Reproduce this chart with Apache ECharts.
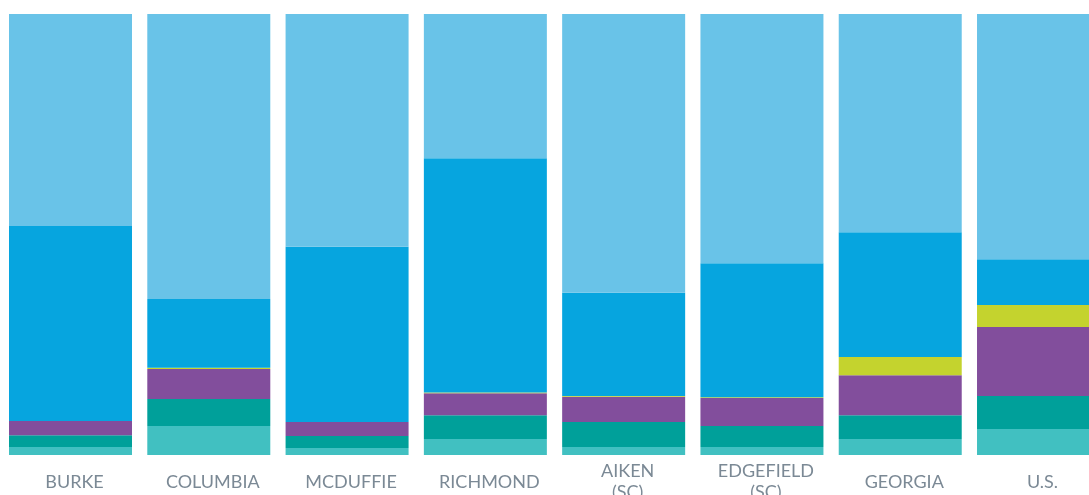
<!DOCTYPE html>
<html>
<head>
<meta charset="utf-8">
<title>Share by segment</title>
<script src="https://cdn.jsdelivr.net/npm/echarts@6/dist/echarts.min.js"></script>
<style>
  html, body { margin: 0; padding: 0; background: #ffffff; }
  #chart { width: 1089px; height: 495px; }
</style>
</head>
<body>
<div id="chart"></div>
<script>
// Areas shown along the x axis
const categories = ['BURKE', 'COLUMBIA', 'MCDUFFIE', 'RICHMOND', 'AIKEN\n(SC)', 'EDGEFIELD\n(SC)', 'GEORGIA', 'U.S.'];

// Percent shares, stacked bottom to top
const seg1 = [1.8, 6.6, 1.6, 3.6, 1.8, 1.8, 3.6, 5.9];
const seg2 = [2.7, 6.1, 2.7, 5.4, 5.7, 4.8, 5.4, 7.5];
const seg3 = [3.2, 6.8, 3.2, 5.0, 5.7, 6.3, 9.1, 15.6];
const seg4 = [0.0, 0.3, 0.0, 0.2, 0.2, 0.2, 4.1, 5.0];
const seg5 = [44.2, 15.6, 39.7, 53.1, 23.4, 30.4, 28.3, 10.4];
const seg6 = [48.1, 64.6, 52.8, 32.7, 63.2, 56.5, 49.5, 55.6];

const segments = [seg1, seg2, seg3, seg4, seg5, seg6];
const colors = ['#41c0c1', '#00a09a', '#824e9c', '#c4d32e', '#06a5df', '#69c3e8'];

const chart = echarts.init(document.getElementById('chart'), null, { renderer: 'canvas' });

chart.setOption({
  animation: false,
  backgroundColor: '#ffffff',
  grid: {
    left: 1.36,
    width: 1106.3,
    top: 14,
    bottom: 40,
    containLabel: false,
    outerBoundsMode: 'none'
  },
  xAxis: {
    type: 'category',
    data: categories,
    axisLine: { show: false },
    axisTick: { show: false },
    axisLabel: {
      interval: 0,
      margin: 27,
      verticalAlign: 'middle',
      color: '#7b8995',
      fontFamily: 'Lato',
      fontSize: 18,
      lineHeight: 21,
      padding: [0, 0, 0, 8]
    }
  },
  yAxis: {
    type: 'value',
    min: 0,
    max: 100,
    show: false,
    splitLine: { show: false }
  },
  series: segments.map((values, i) => ({
    type: 'bar',
    stack: 'total',
    barWidth: 123,
    data: values,
    itemStyle: { color: colors[i] },
    emphasis: { disabled: true }
  }))
});
</script>
</body>
</html>
